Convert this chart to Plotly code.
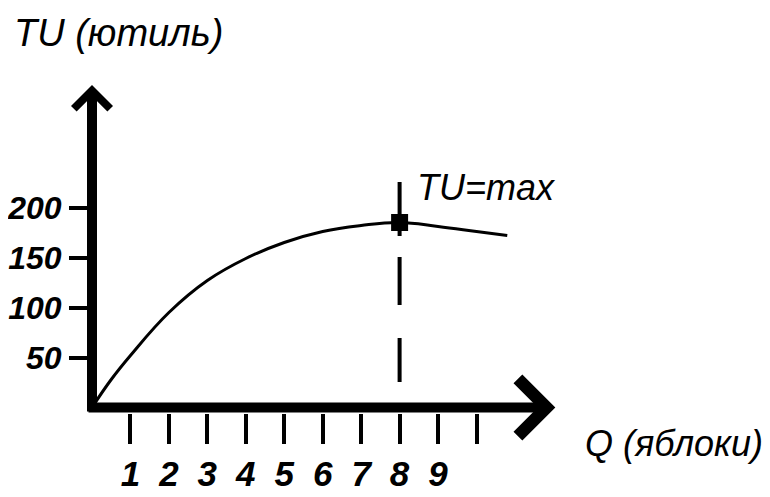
import plotly.graph_objects as go

# data
q_vals = [0, 0.5, 1, 2, 3, 4, 5, 6, 7, 8, 9, 10, 10.8]
tu_vals = [0, 28, 52, 95, 127, 149, 165, 176, 182, 185, 181, 176, 172]

q_ticks = [1, 2, 3, 4, 5, 6, 7, 8, 9, 10]
q_tick_text = ["1", "2", "3", "4", "5", "6", "7", "8", "9", ""]
tu_ticks = [50, 100, 150, 200]
tu_tick_text = ["50", "100", "150", "200"]

q_max = 8
tu_max = 185

# the page puts the plot 8px in from the top-left corner
OFF = 8
W, H = 770 - OFF, 497 - OFF
PX_PER_Q = 38.45
ORIGIN_X, ORIGIN_Y = 92 - OFF, 407.5 - OFF
X_RANGE = [-ORIGIN_X / PX_PER_Q, (W - ORIGIN_X) / PX_PER_Q]
Y_RANGE = [-(H - ORIGIN_Y), ORIGIN_Y]


def px(x):
    return (x - OFF) / W


def py(y):
    return 1 - (y - OFF) / H


digit_font = dict(family="Liberation Sans, Arial", size=35, color="black",
                  weight="bold", style="italic")
text_font = dict(family="Liberation Sans, Arial", size=38, color="black", style="italic")

fig = go.Figure()

# TU curve
fig.add_trace(go.Scatter(x=q_vals, y=tu_vals, mode="lines",
                         line=dict(color="black", width=3, shape="spline", smoothing=1.2),
                         hoverinfo="skip"))

# vertical line through the maximum
fig.add_shape(type="line", x0=q_max, x1=q_max, y0=225.5, y1=25.5,
              line=dict(color="black", width=4, dash="54px,21px,48px,33px,44px"))

# max point
fig.add_trace(go.Scatter(x=[q_max], y=[tu_max], mode="markers",
                         marker=dict(symbol="square", size=17, color="black"),
                         hoverinfo="skip"))

# axes with arrows
fig.add_annotation(x=12.05, y=0, ax=-0.13, ay=0, axref="x", ayref="y",
                   text="", showarrow=True, arrowhead=4, arrowsize=1.1,
                   arrowwidth=10, arrowcolor="black")
fig.add_annotation(x=0, y=322.5, ax=0, ay=-5.5, axref="x", ayref="y",
                   text="", showarrow=True, arrowhead=4, arrowsize=0.7,
                   arrowwidth=10, arrowcolor="black")

# labels
fig.add_annotation(text="TU (ютиль)", xref="paper", yref="paper",
                   x=px(12), y=py(33), xanchor="left", yanchor="middle",
                   showarrow=False, font=text_font)
fig.add_annotation(text="Q (яблоки)", xref="paper", yref="paper",
                   x=px(583), y=py(443), xanchor="left", yanchor="middle",
                   showarrow=False, font=dict(text_font, size=36))
fig.add_annotation(text="TU=max", x=q_max + 0.4, y=tu_max + 35,
                   xanchor="left", yanchor="middle", showarrow=False,
                   font=dict(text_font, size=36))

fig.update_layout(
    width=W, height=H,
    margin=dict(l=0, r=0, t=0, b=0),
    paper_bgcolor="white", plot_bgcolor="white",
    showlegend=False,
    xaxis=dict(range=X_RANGE, anchor="free", position=py(412.5),
               tickvals=q_ticks, ticktext=q_tick_text,
               ticks="outside", ticklen=30, tickwidth=4, tickcolor="black",
               ticklabelstandoff=0,
               showgrid=False, zeroline=False, showline=False,
               tickfont=digit_font, automargin=False, fixedrange=True),
    yaxis=dict(range=Y_RANGE, anchor="free", position=px(87),
               tickvals=tu_ticks, ticktext=tu_tick_text,
               ticks="outside", ticklen=18, tickwidth=4, tickcolor="black",
               ticklabelstandoff=1,
               showgrid=False, zeroline=False, showline=False,
               tickfont=dict(digit_font, size=32), automargin=False, fixedrange=True),
)

fig.write_html("out.html")
